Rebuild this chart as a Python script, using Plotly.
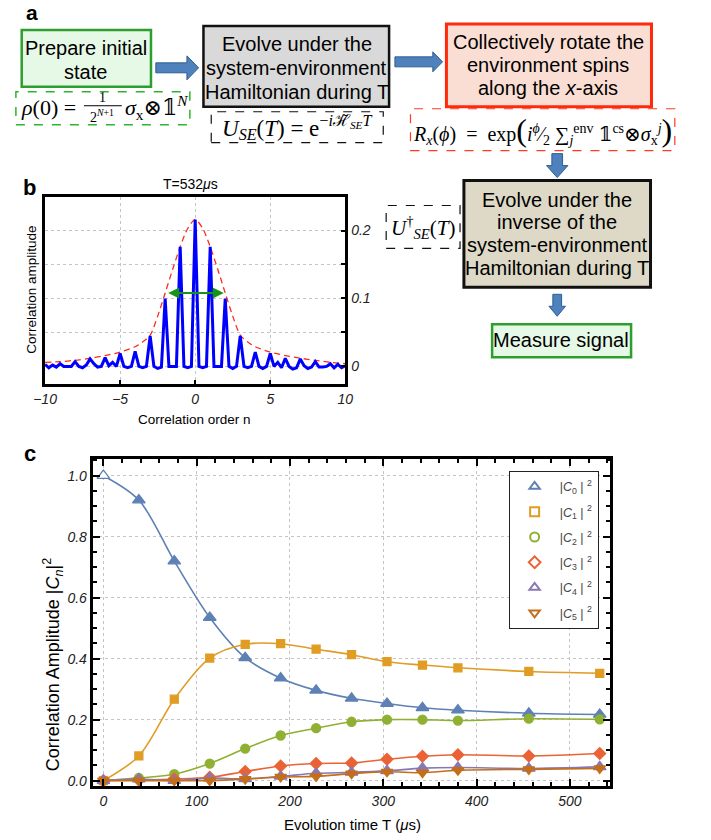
import plotly.graph_objects as go

W, H = 711, 840
SANS = "Liberation Sans, Arial, sans-serif"
SERIF = "Liberation Serif, DejaVu Serif, serif"

# ---------------- data: panel b ----------------
n_order = [i / 4 for i in range(-40, 41)]
corr_amp = [0.003, -0.002, 0.002, -0.001, 0.004, 0.0, 0.0, 0.0,
            0.007, 0.0, -0.002, 0.002, 0.011, 0.004, -0.001, 0.0,
            0.013, 0.001, 0.006, 0.0, 0.019, 0.0, -0.002, 0.0,
            0.022, 0.0, -0.002, 0.0, 0.045, 0.0, -0.003, -0.001,
            0.100, 0.0, 0.0, 0.0, 0.176, 0.0, -0.002, 0.0,
            0.216,
            0.0, -0.002, 0.0, 0.176, 0.0, 0.0, 0.0, 0.100,
            0.0, -0.003, 0.0, 0.045, 0.0, -0.002, 0.0, 0.021,
            0.0, -0.003, 0.0, 0.019, 0.0, 0.006, -0.002, 0.012,
            0.0, -0.004, -0.002, 0.011, 0.001, -0.003, -0.001, 0.007,
            -0.001, -0.001, 0.0, 0.004, -0.002, 0.003, -0.002, 0.001]
env_n = [-10, -9, -8, -7, -6, -5, -4, -3.5, -3, -2.5, -2, -1.5, -1, -0.5, 0,
         0.5, 1, 1.5, 2, 2.5, 3, 3.5, 4, 5, 6, 7, 8, 9, 10]
env_val = [0.006, 0.007, 0.009, 0.012, 0.016, 0.021, 0.029, 0.036, 0.046, 0.074, 0.108, 0.143, 0.176, 0.203, 0.216,
           0.203, 0.176, 0.143, 0.108, 0.074, 0.046, 0.036, 0.029, 0.021, 0.016, 0.012, 0.009, 0.006, 0.004]
fwhm_span = [-1.9, 1.9]
fwhm_level = 0.108

# ---------------- data: panel c ----------------
T_us = [0, 38, 76, 114, 152, 190, 228, 266, 304, 342, 380, 456, 532]
C0 = [1.0, 0.92, 0.72, 0.535, 0.403, 0.336, 0.296, 0.27, 0.253, 0.239, 0.231, 0.221, 0.217]
C1 = [0.0, 0.081, 0.267, 0.402, 0.447, 0.449, 0.431, 0.413, 0.39, 0.379, 0.37, 0.358, 0.352]
C2 = [0.0, 0.009, 0.021, 0.056, 0.105, 0.148, 0.172, 0.193, 0.2, 0.2, 0.197, 0.203, 0.201]
C3 = [0.0, 0.002, 0.005, 0.011, 0.03, 0.048, 0.056, 0.058, 0.07, 0.08, 0.085, 0.081, 0.089]
C4 = [0.0, 0.005, 0.0, 0.008, 0.006, 0.014, 0.024, 0.027, 0.032, 0.041, 0.043, 0.04, 0.045]
C5 = [0.0, 0.0, 0.0, 0.0, 0.005, 0.012, 0.014, 0.023, 0.029, 0.026, 0.034, 0.037, 0.04]
series_names = ["|<i>C</i><sub>0</sub> | <sup>2</sup>", "|<i>C</i><sub>1</sub> | <sup>2</sup>",
                "|<i>C</i><sub>2</sub> | <sup>2</sup>", "|<i>C</i><sub>3</sub> | <sup>2</sup>",
                "|<i>C</i><sub>4</sub> | <sup>2</sup>", "|<i>C</i><sub>5</sub> | <sup>2</sup>"]
series_vals = [C0, C1, C2, C3, C4, C5]
colors = ["#5E81B5", "#E19C24", "#8FB032", "#EB6235", "#8778B3", "#C56E1A"]
symbols = ["triangle-up", "square", "circle", "diamond", "triangle-up", "triangle-down"]
msizes = [11, 8, 9, 9, 11, 10]

def PX(x):
    return x / W

def PY(y):
    return 1 - y / H

fig = go.Figure()

# panel b traces
fig.add_trace(go.Scatter(x=env_n, y=env_val, mode="lines", xaxis="x", yaxis="y",
                         line=dict(color="#FF2A1A", width=1.3, dash="6px,4px", shape="spline", smoothing=0.8),
                         showlegend=False, hoverinfo="skip"))
fig.add_trace(go.Scatter(x=n_order, y=corr_amp, mode="lines", xaxis="x", yaxis="y",
                         line=dict(color="#0000FF", width=3), showlegend=False))

# panel c traces
for i, (vals, col, sym, ms) in enumerate(zip(series_vals, colors, symbols, msizes)):
    fills = [col] * len(vals)
    if i == 0:
        fills[0] = "white"
    fig.add_trace(go.Scatter(x=T_us, y=vals, mode="lines+markers", xaxis="x2", yaxis="y2",
                             line=dict(color=col, width=1.6, shape="spline", smoothing=0.9),
                             marker=dict(symbol=sym, size=ms, color=fills, line=dict(color=col, width=1.3)),
                             showlegend=False))
for i, (name, col, sym) in enumerate(zip(series_names, colors, symbols)):
    fig.add_trace(go.Scatter(x=[None], y=[None], mode="markers", xaxis="x2", yaxis="y2",
                             marker=dict(symbol=sym + "-open", size=9, color=col, line=dict(width=2, color=col)),
                             name=name, legendgroup=str(i)))

grid = dict(showgrid=True, gridcolor="#C4C4C4", griddash="dot", gridwidth=1, zeroline=False)
tickf = dict(family=SANS, size=14, color="#222", style="italic")

fig.update_layout(
    width=W, height=H, margin=dict(l=0, r=0, t=0, b=0),
    paper_bgcolor="white", plot_bgcolor="white",
    xaxis=dict(domain=[PX(34), PX(343)], range=[-10, 10], anchor="y",
               tickvals=[-10, -5, 0, 5, 10], ticktext=["\u221210", "\u22125", "0", "5", "10"],
               ticks="inside", ticklen=4, tickwidth=2, tickcolor="black",
               showline=True, linecolor="black", linewidth=3, mirror=True,
               tickfont=tickf, **grid),
    yaxis=dict(domain=[PY(385), PY(197)], range=[-0.026, 0.25], anchor="x", side="right",
               tickvals=[0, 0.05, 0.1, 0.15, 0.2], ticktext=["0", "", "0.1", "", "0.2"],
               ticks="inside", ticklen=4, tickwidth=2, tickcolor="black",
               showline=True, linecolor="black", linewidth=3, mirror=True,
               tickfont=tickf, **grid),
    xaxis2=dict(domain=[PX(83), PX(615)], range=[-11.5, 542.7], anchor="y2",
                dtick=100, tick0=0, ticks="inside", ticklen=7, tickwidth=2, tickcolor="black",
                minor=dict(dtick=20, ticklen=4, tickwidth=1.5, tickcolor="black", ticks="inside"),
                showline=True, linecolor="black", linewidth=3, mirror="ticks",
                tickfont=tickf, **grid),
    yaxis2=dict(domain=[PY(788), PY(460)], range=[-0.018, 1.055], anchor="x2",
                dtick=0.2, tick0=0, tickformat=".1f", ticks="inside", ticklen=7, tickwidth=2, tickcolor="black",
                minor=dict(dtick=0.05, ticklen=4, tickwidth=1.5, tickcolor="black", ticks="inside"),
                showline=True, linecolor="black", linewidth=3, mirror="ticks",
                tickfont=tickf, **grid),
    legend=dict(x=PX(511), y=PY(472), xanchor="left", yanchor="top", bgcolor="white",
                bordercolor="#222", borderwidth=1, font=dict(family=SANS, size=12.5, color="#444"),
                tracegroupgap=6, itemwidth=40),
)

shapes = []
annots = []

def rect(x0, y0, x1, y1, line, width, fill=None, dash="solid"):
    shapes.append(dict(type="rect", xref="paper", yref="paper", x0=PX(x0), x1=PX(x1), y0=PY(y1), y1=PY(y0),
                       line=dict(color=line, width=width, dash=dash), fillcolor=fill if fill else "rgba(0,0,0,0)",
                       layer="below"))

def pth(pts, fill, line):
    d = "M " + " L ".join(f"{PX(x):.5f},{PY(y):.5f}" for x, y in pts) + " Z"
    shapes.append(dict(type="path", xref="paper", yref="paper", path=d, fillcolor=fill,
                       line=dict(color=line, width=1)))

def right_arrow(x0, x1, yc, sh, hh, xh):
    pth([(x0, yc - sh / 2), (xh, yc - sh / 2), (xh, yc - hh / 2), (x1, yc), (xh, yc + hh / 2),
         (xh, yc + sh / 2), (x0, yc + sh / 2)], "#4F81BD", "#2F5D93")

def down_arrow(xc, y0, y1, sw, hw, yh):
    pth([(xc - sw / 2, y0), (xc + sw / 2, y0), (xc + sw / 2, yh), (xc + hw / 2, yh), (xc, y1),
         (xc - hw / 2, yh), (xc - sw / 2, yh)], "#4F81BD", "#2F5D93")

def ann(x, y, text, size=20, family=SANS, color="black", xanchor="center", yanchor="middle", angle=0):
    annots.append(dict(x=PX(x), y=PY(y), xref="paper", yref="paper", text=text, showarrow=False,
                       font=dict(size=size, family=family, color=color), xanchor=xanchor, yanchor=yanchor,
                       textangle=angle))

# ----- panel a flowchart -----
rect(10, 30, 143, 87, "#2E9E2E", 2.5, "#E6F8E6")
rect(4, 92, 183, 125, "#2DB52D", 1.5, None, "dash")
right_arrow(148, 192, 68, 10, 24, 180)
rect(197, 26, 388, 107, "#111", 2.5, "#D9D9D9")
rect(205, 112, 382, 143, "#111", 1.2, None, "dash")
right_arrow(394, 443, 62, 10, 20, 433)
rect(447, 24, 658, 107, "#FF2A0A", 3, "#FBDED3")
rect(410, 109, 682, 151, "#FF3B20", 1.2, None, "dash")
down_arrow(561, 154, 178, 11, 22, 166)
rect(465, 181, 657, 288, "#111", 3, "#DDD9C6")
rect(385, 206, 461, 249, "#111", 1.2, None, "dash")
down_arrow(561, 295, 317, 9, 17, 307)
rect(494, 325, 637, 358, "#2E9E2E", 2.5, "#E6F8E6")

ann(76, 48, "Prepare initial")
ann(76, 72, "state")
ann(293, 44, "Evolve under the")
ann(293, 68, "system-environment")
ann(293, 92, "Hamiltonian during T")
ann(552, 42, "Collectively rotate the")
ann(552, 65, "environment spins")
ann(552, 88, "along the <i>x</i>-axis")
ann(561, 200, "Evolve under the")
ann(561, 223, "inverse of the")
ann(561, 246, "system-environment")
ann(561, 269, "Hamiltonian during T")
ann(565, 341, "Measure signal")

# formulas
ann(68, 108, "<i>ρ</i>(0) =", size=22, family=SERIF, xanchor="right")
ann(93, 98, "1", size=14, family=SERIF)
shapes.append(dict(type="line", xref="paper", yref="paper", x0=PX(74), x1=PX(113), y0=PY(106), y1=PY(106),
                   line=dict(color="black", width=1)))
ann(93, 116, "2<sup><i>N</i>+1</sup>", size=14, family=SERIF)
ann(114, 108, "<i>σ</i><sub>x</sub>⊗𝟙<sup><i>N</i></sup>", size=22, family=SERIF, xanchor="left")
ann(293, 128, "<i>U<sub>SE</sub></i>(<i>T</i>) = e<sup>−<i>i</i>ℋ̃<sub><i>SE</i></sub><i>T</i></sup>", size=23, family=SERIF)
ann(546, 130, "<i>R<sub>x</sub></i>(<i>ϕ</i>)  =  exp<span style='font-size:32px'>(</span><i>i</i><sup><i>ϕ</i></sup>⁄<sub>2</sub>"
              " ∑<sub><i>j</i></sub><sup>env</sup> 𝟙<sup>cs</sup>⊗<i>σ</i><sub>x</sub><sup><i>j</i></sup>"
              "<span style='font-size:32px'>)</span>", size=20, family=SERIF)
ann(423, 228, "<i>U</i><sup>†</sup><sub><i>SE</i></sub>(<i>T</i>)", size=21, family=SERIF)

# panel labels
ann(21, 13, "<b>a</b>", size=21)
ann(18, 188, "<b>b</b>", size=22)
ann(19, 455, "<b>c</b>", size=22)

# panel b texts
ann(184, 184, "T=532<i>μ</i>s", size=14)
ann(20, 290, "Correlation amplitude", size=13.5, angle=-90)
ann(188, 420, "Correlation order n", size=13.5)

# panel c texts
ann(42, 666, "Correlation Amplitude |<i>C<sub>n</sub></i>|<sup>2</sup>", size=18, angle=-90)
ann(350, 826, "Evolution time T (<i>μ</i>s)", size=15)

# FWHM arrow
annots.append(dict(x=fwhm_span[1], y=fwhm_level, ax=fwhm_span[0], ay=fwhm_level, xref="x", yref="y",
                   axref="x", ayref="y", text="", showarrow=True, arrowhead=2, arrowside="end+start",
                   arrowsize=1, arrowwidth=2.2, arrowcolor="#159415"))

fig.update_layout(shapes=shapes, annotations=annots)
fig.write_html("out.html", config={"displayModeBar": False},
               post_script="document.body.style.margin='0px';")
